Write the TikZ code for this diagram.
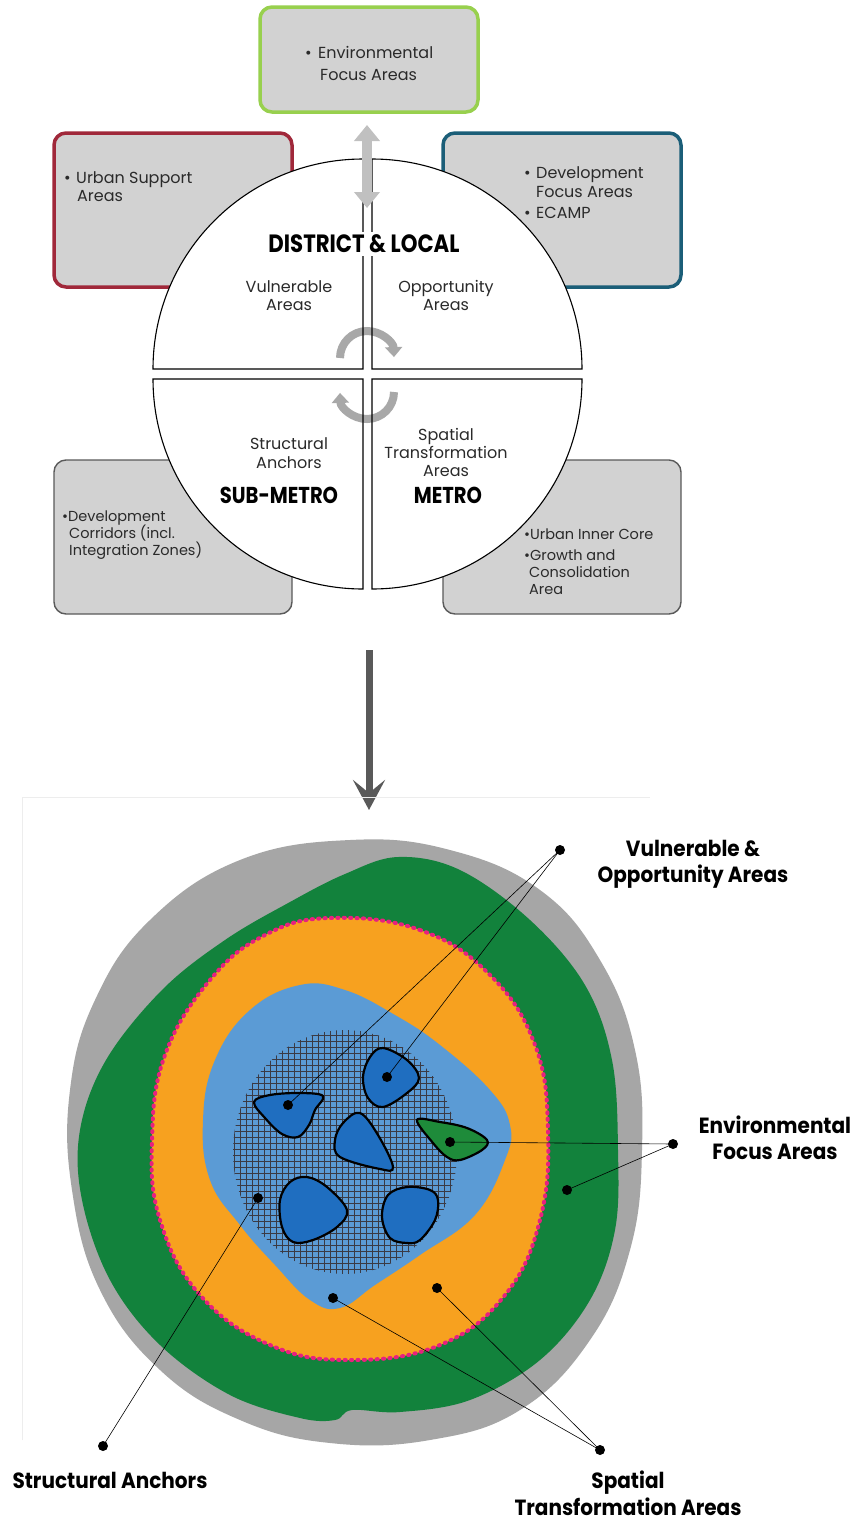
\documentclass[tikz,border=0pt]{standalone}
\usepackage{fontspec}
\setmainfont{Poppins}
\newfontfamily\hfont{Poppins}[FakeStretch=0.85]
\newfontfamily\lfont{Poppins}[FakeStretch=0.91]
\usetikzlibrary{arrows.meta,patterns.meta}
\definecolor{boxfill}{HTML}{D2D2D2}
\definecolor{limeb}{HTML}{98D04E}
\definecolor{redb}{HTML}{A0283A}
\definecolor{tealb}{HTML}{1B5E78}
\definecolor{lowb}{HTML}{5A5A5A}
\definecolor{txt}{HTML}{2A2A2A}
\definecolor{arrlight}{HTML}{C0C0C0}
\definecolor{arrcirc}{HTML}{A8A8A8}
\definecolor{arrdark}{HTML}{595959}
\definecolor{mapgray}{HTML}{A6A6A6}
\definecolor{mapgreen}{HTML}{12823C}
\definecolor{maporange}{HTML}{F7A11F}
\definecolor{pinkd}{HTML}{E8207F}
\definecolor{lblue}{HTML}{5B9BD5}
\definecolor{dblue}{HTML}{1F6EC0}
\definecolor{bgreen}{HTML}{1E8B3A}
\definecolor{hatchc}{HTML}{3A3A44}
\begin{document}
\begin{tikzpicture}[x=1pt,y=-1pt,
  box/.style={rectangle,rounded corners=12pt,fill=boxfill,inner sep=0pt,minimum width=238pt,minimum height=154pt},
  body/.style={font=\fontsize{16}{19}\selectfont,text=txt,inner sep=0pt},
  small/.style={font=\fontsize{14.5}{17}\selectfont,text=txt,inner sep=0pt},
  head/.style={font=\hfont\bfseries\fontsize{23}{26}\selectfont,text=black,inner sep=0pt},
  maplabel/.style={font=\lfont\bfseries\fontsize{22}{24}\selectfont,text=black,inner sep=0pt},
  quad/.style={fill=white},
  quadline/.style={draw=black,line width=1.1pt},
  blob/.style={fill=dblue,draw=black,line width=2.2pt},
  dot/.style={circle,fill=black,inner sep=0pt,minimum size=10pt},
  leader/.style={draw=black,line width=0.6pt},
  pinkring/.style={draw=pinkd,line width=4pt,line cap=round,dash pattern=on 1.2pt off 5.2pt}]
\useasboundingbox (0,0) rectangle (856,1521);
\fill[white] (0,0) rectangle (856,1521);

% ---------- boxes ----------
\node[box,draw=limeb,line width=3.5pt,minimum width=218pt,minimum height=105pt] (env) at (369,59.5) {};
\node[box,draw=redb,line width=3.5pt] (urb) at (173,210) {};
\node[box,draw=tealb,line width=3.5pt] (dev) at (562,210) {};
\node[box,draw=lowb,line width=1.4pt] (cor) at (173,537) {};
\node[box,draw=lowb,line width=1.4pt] (core) at (562,537) {};

% box texts
\node[body,anchor=base west] (t1a) at (305,58) {•};
\node[body,anchor=base west] (t1b) at (318,58) {Environmental};
\node[body,anchor=base west] (t1c) at (320,80) {Focus Areas};

\node[body,anchor=base west] (t2a) at (64,183) {•};
\node[body,anchor=base west] (t2b) at (76,183) {Urban Support};
\node[body,anchor=base west] (t2c) at (77,201) {Areas};

\node[body,anchor=base west] (t3a) at (524,178) {•};
\node[body,anchor=base west] (t3b) at (536,178) {Development};
\node[body,anchor=base west] (t3c) at (536,197) {Focus Areas};
\node[body,anchor=base west] (t3d) at (524,218) {•};
\node[body,anchor=base west] (t3e) at (536,218) {ECAMP};

\node[small,anchor=base west] (t4a) at (62,521) {•Development};
\node[small,anchor=base west] (t4b) at (69,538) {Corridors (incl.};
\node[small,anchor=base west] (t4c) at (69,555) {Integration Zones)};

\node[small,anchor=base west] (t5a) at (524,539) {•Urban Inner Core};
\node[small,anchor=base west] (t5b) at (524,560) {•Growth and};
\node[small,anchor=base west] (t5c) at (529,577) {Consolidation};
\node[small,anchor=base west] (t5d) at (529,594) {Area};

% ---------- circle quadrants ----------
\fill[quad] (363,369) -- (153,369) arc[start angle=180,end angle=270,radius=210] -- cycle;
\fill[quad] (372,369) -- (372,159) arc[start angle=270,end angle=360,radius=210] -- cycle;
\fill[quad] (372,379) -- (582,379) arc[start angle=0,end angle=90,radius=210] -- cycle;
\fill[quad] (363,379) -- (363,589) arc[start angle=90,end angle=180,radius=210] -- cycle;

% circular arrows
\draw[arrcirc,line width=8pt,-{Triangle[length=10pt,width=17pt]}] (340,358) arc[start angle=180,end angle=358,radius=27];
\draw[arrcirc,line width=8pt,-{Triangle[length=10pt,width=17pt]}] (394,392) arc[start angle=0,end angle=178,radius=27];

\draw[quadline] (363,369) -- (153,369) arc[start angle=180,end angle=270,radius=210] -- cycle;
\draw[quadline] (372,369) -- (372,159) arc[start angle=270,end angle=360,radius=210] -- cycle;
\draw[quadline] (372,379) -- (582,379) arc[start angle=0,end angle=90,radius=210] -- cycle;
\draw[quadline] (363,379) -- (363,589) arc[start angle=90,end angle=180,radius=210] -- cycle;

% circle texts
\node[head,font=\hfont\bfseries\fontsize{25}{28}\selectfont,anchor=base,fill=white,inner sep=3pt] (dl) at (364,252.5) {DISTRICT \& LOCAL};
\node[body,anchor=base] (va1) at (289,292) {Vulnerable};
\node[body,anchor=base] (va2) at (289,310) {Areas};
\node[body,anchor=base] (oa1) at (446,292) {Opportunity};
\node[body,anchor=base] (oa2) at (446,310) {Areas};
\node[body,anchor=base] (sa1) at (289,449) {Structural};
\node[body,anchor=base] (sa2) at (289,468) {Anchors};
\node[head,anchor=base] (sm) at (279,503) {SUB-METRO};
\node[body,anchor=base] (st1) at (446,440) {Spatial};
\node[body,anchor=base] (st2) at (446,458) {Transformation};
\node[body,anchor=base] (st3) at (446,476) {Areas};
\node[head,anchor=base] (me) at (448,503) {METRO};

% double arrow between top box and circle
\coordinate (da1) at (367,125);
\coordinate (da2) at (367,208);
\draw[arrlight,line width=10pt,{Triangle[length=16pt,width=25pt]}-{Triangle[length=16pt,width=25pt]}] (da1) -- (da2);

% down arrow
\coordinate (dn1) at (369,650);
\coordinate (dn2) at (369,810);
\draw[arrdark,line width=7pt,-{Stealth[length=30pt,width=32pt,inset=13pt]}] (dn1) -- (dn2);

% faint frame of the lower picture
\draw[black!7,line width=0.8pt] (22,1440) -- (22,797) -- (650,797);

% ---------- map ----------
\fill[mapgray] plot[smooth cycle,tension=0.7] coordinates {(350,840) (450,850) (540,890) (600,960) (635,1050) (642,1150) (630,1250) (590,1340) (520,1410) (430,1440) (330,1443) (240,1420) (160,1370) (100,1290) (72,1190) (70,1090) (95,1000) (150,920) (240,860)};
\fill[mapgreen] plot[smooth cycle,tension=0.6] coordinates {(398,857) (460,870) (530,920) (585,985) (612,1060) (618,1150) (615,1230) (590,1300) (540,1360) (470,1400) (400,1412) (352,1410) (335,1420) (300,1418) (230,1395) (160,1345) (110,1280) (82,1200) (80,1130) (106,1060) (162,990) (225,940) (290,902) (345,874)};
\fill[maporange] plot[smooth cycle,tension=0.7] coordinates {(330,918) (420,930) (490,975) (535,1045) (548,1130) (540,1220) (505,1295) (440,1345) (350,1360) (270,1345) (200,1295) (160,1220) (152,1140) (165,1055) (210,980) (265,935)};
\draw[pinkring] plot[smooth cycle,tension=0.7] coordinates {(330,918) (420,930) (490,975) (535,1045) (548,1130) (540,1220) (505,1295) (440,1345) (350,1360) (270,1345) (200,1295) (160,1220) (152,1140) (165,1055) (210,980) (265,935)};
\fill[lblue] plot[smooth cycle,tension=0.7] coordinates {(300,985) (345,990) (395,1015) (440,1045) (490,1090) (510,1125) (505,1160) (475,1215) (420,1255) (375,1285) (340,1308) (310,1300) (275,1265) (240,1225) (210,1180) (203,1120) (215,1060) (250,1010)};
\fill[pattern={Lines[angle=0,distance=6pt,line width=0.75pt]},pattern color=hatchc] (345,1152) ellipse[x radius=112,y radius=122];
\fill[pattern={Lines[angle=90,distance=6pt,line width=0.75pt]},pattern color=hatchc] (345,1152) ellipse[x radius=112,y radius=122];

% blobs
\filldraw[blob] plot[smooth cycle,tension=0.6] coordinates {(254,1102) (270,1095) (300,1093) (323,1096) (315,1110) (309,1125) (298,1137) (282,1134) (265,1118)};
\filldraw[blob] plot[smooth cycle,tension=0.6] coordinates {(383,1048) (407,1060) (419,1078) (407,1093) (383,1107) (368,1098) (363,1077) (370,1057)};
\filldraw[blob] plot[smooth cycle,tension=0.6] coordinates {(360,1113) (378,1135) (393,1167) (380,1169) (340,1157) (335,1140) (343,1123)};
\filldraw[blob] plot[smooth cycle,tension=0.6] coordinates {(307,1177) (327,1187) (347,1210) (337,1227) (313,1240) (293,1242) (282,1227) (280,1200) (290,1182)};
\filldraw[blob] plot[smooth cycle,tension=0.6] coordinates {(407,1187) (430,1190) (438,1200) (435,1220) (420,1240) (407,1243) (390,1238) (382,1217) (388,1195)};
\filldraw[blob,fill=bgreen] plot[smooth cycle,tension=0.6] coordinates {(417,1120) (440,1122) (467,1128) (487,1140) (482,1150) (460,1160) (447,1157) (433,1143)};

% dots
\node[dot] (pV) at (560,850) {};
\node[dot] (pb1) at (288,1105) {};
\node[dot] (pb2) at (387,1077) {};
\node[dot] (pE) at (673,1144) {};
\node[dot] (pg) at (450,1142) {};
\node[dot] (pr) at (567,1190) {};
\node[dot] (ph) at (258,1198) {};
\node[dot] (pS) at (103,1446) {};
\node[dot] (pl) at (333,1298) {};
\node[dot] (po) at (437,1288) {};
\node[dot] (pT) at (600,1450) {};

% leaders
\draw[leader] (pV.center) -- (pb1.center);
\draw[leader] (pV.center) -- (pb2.center);
\draw[leader] (pE.center) -- (pg.center);
\draw[leader] (pE.center) -- (pr.center);
\draw[leader] (pS.center) -- (ph.center);
\draw[leader] (pT.center) -- (pl.center);
\draw[leader] (pT.center) -- (po.center);

% map labels
\node[maplabel,anchor=base] (lv1) at (693,856) {Vulnerable \&};
\node[maplabel,anchor=base] (lv2) at (693,882) {Opportunity Areas};
\node[maplabel,anchor=base] (le1) at (775,1133) {Environmental};
\node[maplabel,anchor=base] (le2) at (775,1159) {Focus Areas};
\node[maplabel,anchor=base] (ls) at (110,1488) {Structural Anchors};
\node[maplabel,anchor=base] (lt1) at (628,1488) {Spatial};
\node[maplabel,anchor=base] (lt2) at (628,1515) {Transformation Areas};
\end{tikzpicture}
\end{document}
